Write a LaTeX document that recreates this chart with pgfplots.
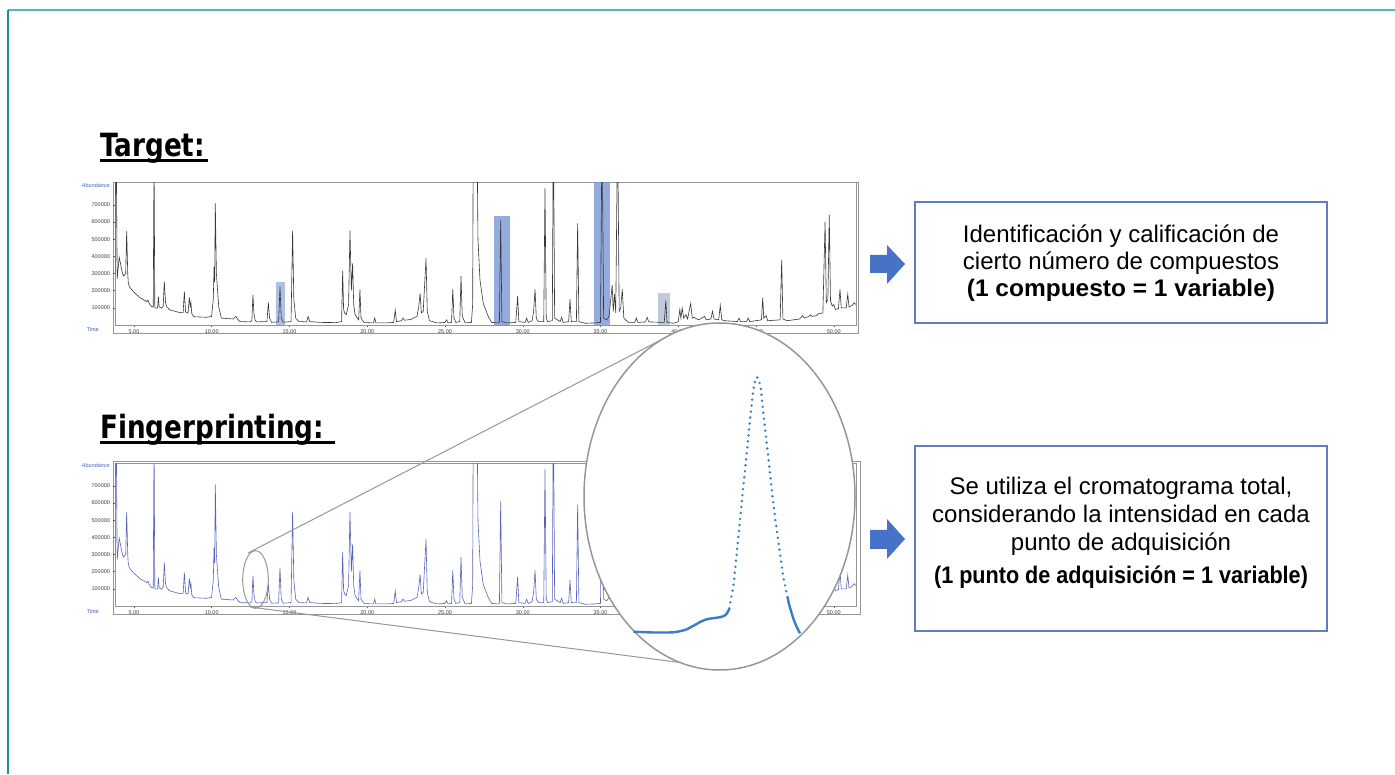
\documentclass[border=0pt]{standalone}
\usepackage{fontspec}
\setmainfont{Liberation Sans}
\newfontfamily\titlefont{DejaVu Sans Bold}[FakeStretch=0.82]
\usepackage{graphicx}
\usepackage{pgfplots}
\pgfplotsset{compat=1.18}
\usepackage{pgfplotstable}

\definecolor{teal1}{RGB}{80,185,188}
\definecolor{teal2}{RGB}{30,140,155}
\definecolor{boxblue}{RGB}{95,125,195}
\definecolor{arrowblue}{RGB}{70,115,200}
\definecolor{chromgray}{RGB}{55,55,55}
\definecolor{fpblue}{RGB}{88,98,188}
\definecolor{hl}{RGB}{120,150,212}
\definecolor{hlgray}{RGB}{178,190,212}
\definecolor{labelblue}{RGB}{60,95,195}
\definecolor{insetblue}{RGB}{55,125,200}
\definecolor{framegray}{RGB}{150,150,150}

% chromatogram: time (min), abundance
\pgfplotstableread{
t A
3.78 300000
3.80 1000000
3.86 1000000
3.92 270000
4.05 395000
4.13 360000
4.21 320000
4.32 285000
4.47 300000
4.53 548000
4.60 300000
4.63 250000
4.70 223000
4.96 194000
5.39 159000
5.82 136000
5.90 145000
5.98 125000
6.14 107000
6.24 104000
6.29 1000000
6.34 100000
6.45 98000
6.52 100000
6.57 165000
6.62 105000
6.78 98000
6.88 110000
6.95 252000
7.03 130000
7.10 107000
7.30 88000
7.96 72000
8.16 72000
8.24 194000
8.32 75000
8.48 70000
8.56 161000
8.62 110000
8.66 130000
8.72 65000
8.85 48000
9.67 45000
9.99 50000
10.10 150000
10.15 340000
10.19 250000
10.23 709000
10.30 300000
10.45 107000
10.62 40000
11.39 35000
11.55 50000
11.70 30000
11.82 20000
12.46 18000
12.58 25000
12.65 175000
12.72 60000
12.80 25000
12.90 18000
13.55 20000
13.64 131000
13.72 40000
13.85 16000
14.30 18000
14.39 223000
14.47 40000
14.60 16000
15.10 20000
15.20 549000
15.28 150000
15.40 40000
15.60 20000
16.10 18000
16.20 50000
16.30 20000
17.00 15000
18.00 14000
18.35 20000
18.42 316000
18.48 90000
18.55 70000
18.65 60000
18.80 120000
18.89 549000
18.98 200000
19.06 359000
19.13 120000
19.22 60000
19.45 30000
19.53 208000
19.60 40000
19.80 14000
20.40 12000
20.48 40000
20.56 12000
21.20 12000
21.70 15000
21.80 87000
21.88 20000
22.20 25000
22.30 40000
22.40 28000
22.80 32000
23.20 50000
23.30 100000
23.40 184000
23.48 70000
23.60 80000
23.78 388000
23.86 80000
24.00 25000
24.50 12000
25.00 15000
25.10 30000
25.20 12000
25.42 15000
25.50 208000
25.58 40000
25.70 15000
25.95 20000
26.03 285000
26.11 50000
26.30 12000
26.70 15000
26.78 120000
26.82 1200000
27.05 1200000
27.12 500000
27.25 262000
27.46 126000
27.79 48000
28.00 15000
28.40 12000
28.50 15000
28.58 610000
28.66 20000
29.00 12000
29.55 15000
29.67 169000
29.75 20000
30.15 15000
30.25 40000
30.35 15000
30.60 25000
30.70 80000
30.79 208000
30.87 40000
31.00 20000
31.35 20000
31.43 796000
31.51 40000
31.60 20000
31.90 25000
31.97 1200000
32.05 40000
32.40 20000
32.50 45000
32.60 15000
32.95 20000
33.04 150000
33.12 20000
33.45 20000
33.53 592000
33.61 20000
34.00 10000
34.60 12000
35.00 15000
35.10 1200000
35.20 40000
35.40 30000
35.55 50000
35.75 233000
35.82 80000
35.90 180000
35.98 70000
36.10 1200000
36.20 80000
36.30 100000
36.40 208000
36.50 40000
36.80 15000
37.20 15000
37.30 40000
37.40 15000
37.90 18000
38.00 45000
38.10 18000
39.10 15000
39.20 142000
39.28 15000
39.70 10000
40.00 20000
40.10 90000
40.17 40000
40.25 100000
40.35 40000
40.50 60000
40.60 35000
40.80 126000
40.90 40000
41.00 45000
41.30 30000
41.70 50000
41.80 30000
42.10 35000
42.20 80000
42.30 35000
42.60 30000
42.70 114000
42.80 30000
43.00 25000
43.80 20000
43.90 40000
44.00 20000
44.40 20000
44.50 40000
44.60 20000
45.00 25000
45.35 30000
45.43 159000
45.50 40000
45.65 55000
45.75 25000
46.55 30000
46.65 378000
46.73 35000
47.00 25000
47.80 35000
48.00 55000
48.10 40000
48.40 50000
48.50 60000
48.60 50000
48.90 55000
49.00 65000
49.30 70000
49.44 602000
49.52 130000
49.62 150000
49.71 641000
49.79 140000
49.90 110000
50.00 120000
50.10 90000
50.30 95000
50.40 208000
50.48 100000
50.80 100000
50.90 180000
50.98 105000
51.20 115000
51.30 130000
51.43 120000
}\chrom

\pgfplotsset{chromaxis/.style={
  anchor=south west, scale only axis, width=741pt, height=143pt,
  xmin=3.78, xmax=51.43, ymin=0, ymax=833000,
  axis line style={draw=framegray, line width=0.8pt},
  xtick={5,10,...,50},
  xticklabels={5.00,10.00,15.00,20.00,25.00,30.00,35.00,40.00,45.00,50.00},
  ytick={100000,200000,300000,400000,500000,600000,700000},
  yticklabels={100000,200000,300000,400000,500000,600000,700000},
  scaled ticks=false,
  tick align=outside, xtick pos=bottom, ytick pos=left,
  major tick length=2.5pt, minor tick length=1.5pt,
  minor x tick num=4,
  tick style={black!65, line width=0.5pt},
  tick label style={font=\fontsize{5.5}{6}\selectfont, text=black!75},
  xticklabel style={yshift=1.5pt},
  yticklabel style={xshift=1pt},
  /pgf/number format/assume math mode=true,
}}

\tikzset{px/.style={x=1pt,y=-1pt,shift={(0pt,774pt)}}}

\begin{document}
\begin{tikzpicture}
\path[use as bounding box] (0pt,0pt) rectangle (1395pt,774pt);

\begin{scope}[px]
  % slide border
  \draw[teal1, line width=2pt] (8,10) -- (1395,10);
  \draw[teal2, line width=2pt] (8,10) -- (8,774);
  % titles
  \node[anchor=base west, inner sep=0, font={\titlefont\fontsize{32}{36}\selectfont}] at (100,157) {Target:};
  \fill (100,159.5) rectangle (208,162.5);
  \node[anchor=base west, inner sep=0, font={\titlefont\fontsize{32}{36}\selectfont}] at (100,439) {Fingerprinting:};
  \fill (100,441.5) rectangle (335,444.5);
  % chart frames
  \draw[framegray, line width=1pt] (113,183) rectangle (858,334);
  \draw[framegray, line width=1pt] (113,462) rectangle (860,615);
  % axis captions
  \node[anchor=east, inner sep=0, text=labelblue, font={\fontsize{5.5}{6}\selectfont\itshape}] at (110,186) {Abundance};
  \node[anchor=east, inner sep=0, text=labelblue, font={\fontsize{5.5}{6}\selectfont}] at (99,330) {Time};
  \node[anchor=east, inner sep=0, text=labelblue, font={\fontsize{5.5}{6}\selectfont\itshape}] at (110,466) {Abundance};
  \node[anchor=east, inner sep=0, text=labelblue, font={\fontsize{5.5}{6}\selectfont}] at (99,612) {Time};
\end{scope}

% Target chromatogram
\begin{axis}[chromaxis, at={(115pt,449pt)}]
  \addplot[fill=hl, fill opacity=0.6, draw=none] coordinates {(14.13,252000) (14.71,252000)} \closedcycle;
  \addplot[fill=hl, fill opacity=0.8, draw=none] coordinates {(28.15,635000) (29.18,635000)} \closedcycle;
  \addplot[fill=hl, fill opacity=0.8, draw=none] coordinates {(34.58,833000) (35.61,833000)} \closedcycle;
  \addplot[fill=hlgray, fill opacity=0.8, draw=none] coordinates {(38.70,186000) (39.47,186000)} \closedcycle;
  \addplot[chromgray, line width=0.6pt] table[x=t, y=A] {\chrom};
\end{axis}

% Fingerprinting chromatogram
\begin{axis}[chromaxis, at={(115pt,168pt)}]
  \addplot[fpblue, line width=0.6pt] table[x=t, y=A] {\chrom};
\end{axis}

\begin{scope}[px]
  % zoom lines and ellipses
  \draw[framegray, line width=1pt] (255.5,579.5) ellipse [x radius=12.8pt, y radius=28.8pt];
  \draw[framegray, line width=1pt] (248,553) -- (662,339.4);
  \draw[framegray, line width=1pt] (250,607) -- (680,662.5);
  \filldraw[fill=white, draw=framegray, line width=1.5pt] (719.5,496.5) ellipse [x radius=135.5pt, y radius=173.5pt];
\end{scope}

% magnified peak (pixel-coordinate overlay axis)
\begin{axis}[at={(0pt,0pt)}, anchor=south west, scale only axis, width=1395pt, height=774pt,
  xmin=0, xmax=1395, ymin=0, ymax=774, y dir=reverse, hide axis, clip=false]
  \addplot[insetblue, line width=2.4pt, smooth, tension=0.5] coordinates {
    (633.3,631.7) (645,632.2) (655,632.5) (665,632.5) (673.3,632.3) (680,631.2)
    (686.7,629.3) (692,626.5) (696.7,624) (701,621.5) (706.7,619.3) (712,618.3)
    (716.7,617.7) (721,617) (724,616) (726,614.5) (727.3,612.7) (728.5,610.5) (729.3,608.3)};
  \addplot[insetblue, line width=2.7pt, line cap=round, dash pattern=on 0pt off 6pt, smooth, tension=0.5] coordinates {
    (729.3,608.3) (731,598) (733.3,586.7) (736.7,553.3) (740,520) (743.3,486.7)
    (746.7,453.3) (750,420) (752.7,395) (754.5,383) (756.7,377) (758.5,380)
    (760.7,388) (763.3,413.3) (766.7,443.3) (770,473.3) (773.3,503.3) (776.7,530)
    (780,553.3) (783.3,576.7) (786.7,593.3) (788.5,601)};
  \addplot[insetblue, line width=2.4pt, smooth, tension=0.5] coordinates {
    (787.5,597) (789,604) (791.7,613.3) (794,620.5) (796.7,626.7) (798.5,630.5) (800,633.3)};
\end{axis}

\begin{scope}[px]
  % arrows
  \fill[arrowblue] (870,255) -- (887,255) -- (887,245) -- (905,264) -- (887,284) -- (887,273) -- (870,273) -- cycle;
  \fill[arrowblue] (870,530) -- (887,530) -- (887,519) -- (905,539) -- (887,559) -- (887,549) -- (870,549) -- cycle;
  % boxes
  \draw[boxblue, line width=1.3pt] (915,202) rectangle (1327,323);
  \node[anchor=base, inner sep=0, font=\fontsize{24}{28}\selectfont] at (1121,243) {Identificación y calificación de};
  \node[anchor=base, inner sep=0, font=\fontsize{24}{28}\selectfont] at (1121,270) {cierto número de compuestos};
  \node[anchor=base, inner sep=0, font=\fontsize{24}{28}\selectfont\bfseries] at (1121,297) {\scalebox{1.02}[1]{(1 compuesto = 1 variable)}};
  \draw[boxblue, line width=1.3pt] (915,446) rectangle (1327,631);
  \node[anchor=base, inner sep=0, font=\fontsize{24}{28}\selectfont] at (1121,495) {Se utiliza el cromatograma total,};
  \node[anchor=base, inner sep=0, font=\fontsize{24}{28}\selectfont] at (1121,523) {considerando la intensidad en cada};
  \node[anchor=base, inner sep=0, font=\fontsize{24}{28}\selectfont] at (1121,551) {punto de adquisición};
  \node[anchor=base, inner sep=0, font=\fontsize{24}{28}\selectfont\bfseries] at (1121,584) {\scalebox{0.9}[1]{(1 punto de adquisición = 1 variable)}};
\end{scope}
\end{tikzpicture}
\end{document}
